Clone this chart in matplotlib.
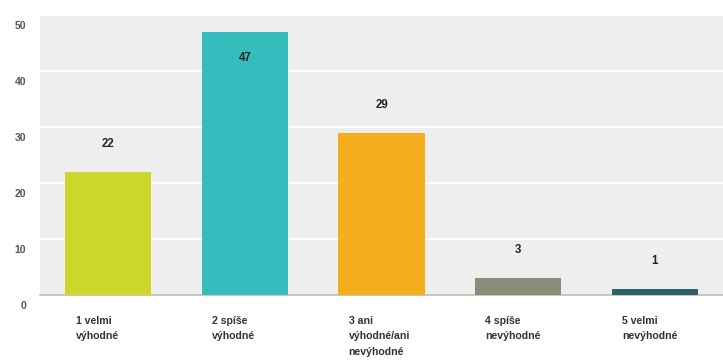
import matplotlib.pyplot as plt
import matplotlib.transforms as mtransforms

# answers per category
categories = ['1 velmi\nvýhodné', '2 spíše\nvýhodné', '3 ani\nvýhodné/ani\nnevýhodné',
              '4 spíše\nnevýhodné', '5 velmi\nnevýhodné']
counts = [22, 47, 29, 3, 1]
colors = ['#cdd62a', '#33bdbd', '#f6ae1f', '#8a8c78', '#2e6169']
yticks = [0, 10, 20, 30, 40, 50]

plt.rcParams['font.family'] = ['Liberation Sans', 'DejaVu Sans']

fig = plt.figure(figsize=(7.23, 3.63), dpi=100)
ax = fig.add_axes([40/723, 68/363, 683/723, 280/363])
ax.set_facecolor('#eeeeee')

x = range(len(counts))
ax.bar(x, counts, width=0.63, color=colors, zorder=3)
ax.set_xlim(-0.5, len(counts) - 0.5)
ax.set_ylim(0, 50)

ax.set_yticks(yticks)
ax.yaxis.grid(True, color='white', linewidth=1.5, zorder=1)
ax.tick_params(axis='y', length=0, labelsize=7.5, labelcolor='#555555', pad=10)
ax.tick_params(axis='x', length=0, labelbottom=False)
shift = mtransforms.ScaledTranslation(0, -7/72, fig.dpi_scale_trans)
for lbl in ax.get_yticklabels():
    lbl.set_transform(lbl.get_transform() + shift)
    lbl.set_fontweight('bold')

for s in ['top', 'right', 'left']:
    ax.spines[s].set_visible(False)
ax.spines['bottom'].set_color('#bbbbbb')
ax.spines['bottom'].set_linewidth(1.2)

# value labels above bars, kept inside the panel
for i, v in enumerate(counts):
    ax.text(i, min(v + 5, 42.3), str(v), ha='center', va='center',
            fontsize=8.3, fontweight='bold', color='#222222', zorder=4)

# category labels below the axis
for i, c in enumerate(categories):
    ax.text(i - 0.24, -3.8, c, ha='left', va='top', fontsize=7.6,
            fontweight='bold', color='#333333', linespacing=1.65)

fig.savefig('out.png', dpi=100)
